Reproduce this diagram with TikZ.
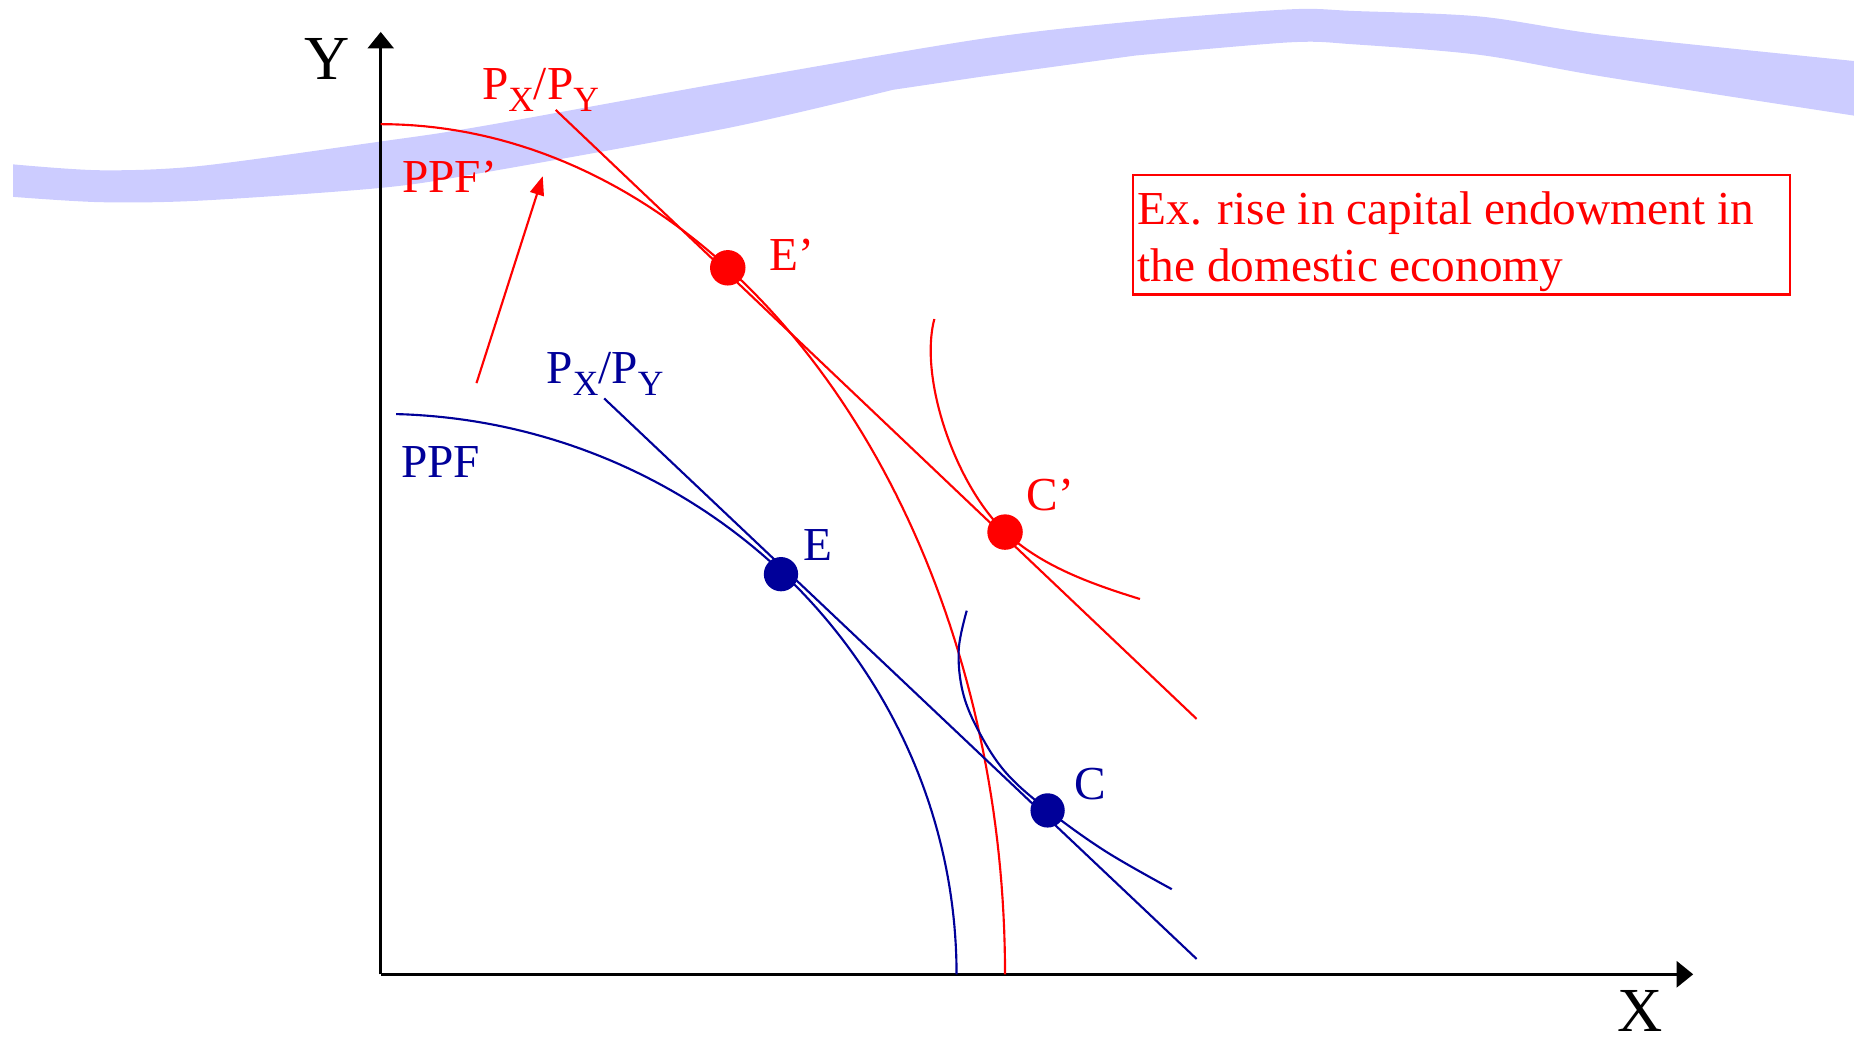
\documentclass[tikz,border=0pt]{standalone}
\usepackage{fontspec}
\setmainfont{Liberation Serif}
\usetikzlibrary{arrows.meta}
\definecolor{navyb}{RGB}{0,0,153}
\definecolor{bandc}{RGB}{204,204,255}
\newcommand{\subl}[1]{\raisebox{-10.4pt}{\fontsize{30}{30}\selectfont #1}}
\newcommand{\pxpy}{P\subl{X}/P\subl{Y}}
\begin{document}
\begin{tikzpicture}[x=1pt,y=-1pt,
  lbl/.style={inner sep=0pt, anchor=base west, font=\fontsize{40}{48}\selectfont},
  axlbl/.style={inner sep=0pt, anchor=base, font=\fontsize{53}{60}\selectfont},
  axis/.style={line width=2.4pt, black, -{Triangle[length=14pt,width=22pt]}},
  curve/.style={line width=1.8pt},
  dotr/.style={circle, fill=red, inner sep=0pt, minimum size=30pt},
  dotb/.style={circle, fill=navyb, inner sep=0pt, minimum size=29pt}]
\useasboundingbox (0,0) rectangle (1568,882);
% lavender band
\fill[bandc] plot[smooth, tension=0.5] coordinates {(11,139) (85,144) (169,140.4) (321,119.8) (406,107) (617,69) (829,33) (960,18) (1091,7.9) (1145,9.3) (1252,14) (1357,29.6) (1568,51.6)}
  -- (1568,97.8)
  -- plot[smooth, tension=0.5] coordinates {(1568,97.8) (1357,65) (1252,46.5) (1145,37.5) (1091,35.8) (960,47)}
  -- (829,65) -- (755,76)
  -- plot[smooth, tension=0.5] coordinates {(755,76) (617,108) (406,146.5) (321,159) (169,169.7) (85,171) (11,166.5)}
  -- cycle;
% axes
\coordinate (O) at (322,824);
\coordinate (ytip) at (322,27);
\coordinate (xtip) at (1432,824);
\draw[axis] (O) -- (ytip);
\draw[axis] (O) -- (xtip);
\node[axlbl] (ylab) at (277,67) {Y};
\node[axlbl] (xlab) at (1387,872) {X};
% PPFs
\draw[curve, red] plot[domain=0:90, samples=90] ({322+528*cos(\x)}, {824-719*sin(\x)});
\draw[curve, navyb] plot[domain=0:88.47, samples=90] ({322+487*cos(\x)}, {824-474*sin(\x)});
% price lines
\coordinate (rl1) at (470,93);
\coordinate (rl2) at (1012,608);
\draw[curve, red] (rl1) -- (rl2);
\coordinate (bl1) at (511,337);
\coordinate (bl2) at (1012,811);
\draw[curve, navyb] (bl1) -- (bl2);
% points
\node[dotr] (Ep) at (615.5,226.5) {};
\node[dotr] (Cp) at (850,450) {};
\node[dotb] (E) at (660.5,485.6) {};
\node[dotb] (C) at (886,685.4) {};
% indifference curves
\coordinate (ic1a) at (790.2,269.8);
\coordinate (ic1b) at (964.1,506.6);
\draw[curve, red] (ic1a) .. controls (777,320) and (808,410) .. (Cp.center)
  .. controls (880,478) and (920,493) .. (ic1b);
\draw[curve, navyb] plot[smooth, tension=0.6] coordinates {(817.6,516.5) (810.8,549.7) (814.5,586.3) (828.7,620.3) (851.2,654) (886,685) (935,720) (991,752)};
% shift arrow
\coordinate (ar1) at (403,324);
\coordinate (ar2) at (459,149);
\draw[curve, red, -{Triangle[length=16pt,width=12pt]}] (ar1) -- (ar2);
% labels
\node[lbl, red] (pr) at (407.5,84) {\pxpy};
\node[lbl, red] (ppfp) at (340,162.5) {PPF’};
\node[lbl, red] (lEp) at (651,229) {E’};
\node[lbl, red] (lCp) at (868.3,431.9) {C’};
\node[lbl, navyb] (pb) at (462,324) {\pxpy};
\node[lbl, navyb] (ppf) at (339,404) {PPF};
\node[lbl, navyb] (lE) at (679,474) {E};
\node[lbl, navyb] (lC) at (908.6,675.8) {C};
% note box
\draw[red, line width=2pt] (958,148) rectangle (1514,249);
\node[lbl, red, align=left] (note) at (962,238) {Ex. rise in capital endowment in\\the domestic economy};
\end{tikzpicture}
\end{document}
